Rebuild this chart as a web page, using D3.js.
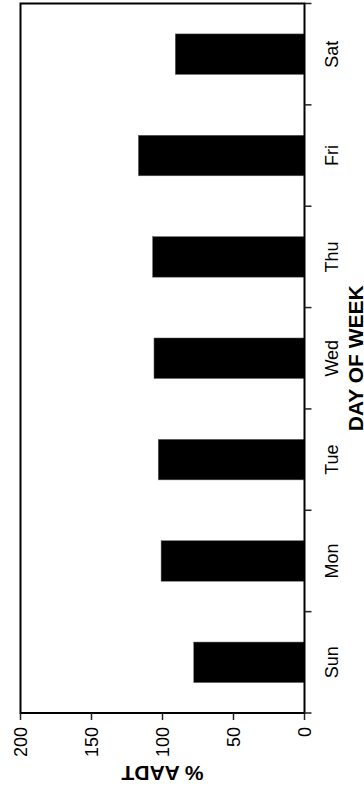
<!DOCTYPE html>
<html>
<head>
<meta charset="utf-8">
<script src="https://cdn.jsdelivr.net/npm/d3@7"></script>
<style>
  html, body { margin: 0; padding: 0; background: #fff; }
  svg { display: block; }
  text { font-family: "Liberation Sans", Arial, Helvetica, sans-serif; fill: #000; }
</style>
</head>
<body>
<svg id="chart" width="364" height="793"></svg>
<script>
const days = ["Sun", "Mon", "Tue", "Wed", "Thu", "Fri", "Sat"];
const pctAADT = [78, 101, 103, 106, 107, 117, 91];
const valueTicks = [0, 50, 100, 150, 200];
const valueTitle = "% AADT";
const categoryTitle = "DAY OF WEEK";

const svg = d3.select("#chart");

const plot = { left: 20.5, right: 304.5, top: 3.5, bottom: 713 };

// value axis: 0 at right, 200 at left (chart rotated)
const x = d3.scaleLinear().domain([0, 200]).range([plot.right, plot.left]);
// category axis: Sun at bottom, Sat at top
const y = d3.scaleBand()
  .domain(days)
  .range([plot.bottom, plot.top])
  .paddingInner(0.6)
  .paddingOuter(0.3);

const step = y.step();

// bars
svg.append("g")
  .selectAll("rect")
  .data(days.map((d, i) => ({ day: d, v: pctAADT[i] })))
  .join("rect")
  .attr("x", d => x(d.v))
  .attr("y", d => y(d.day))
  .attr("width", d => x(0) - x(d.v))
  .attr("height", y.bandwidth())
  .attr("fill", "#000")
  .attr("stroke", "#666")
  .attr("stroke-width", 0.5);

// frame
svg.append("rect")
  .attr("x", plot.left)
  .attr("y", plot.top)
  .attr("width", plot.right - plot.left)
  .attr("height", plot.bottom - plot.top)
  .attr("fill", "none")
  .attr("stroke", "#000")
  .attr("stroke-width", 2);

// value axis ticks (bottom, pointing down)
const vAxis = svg.append("g");
vAxis.selectAll("line")
  .data(valueTicks)
  .join("line")
  .attr("x1", d => x(d)).attr("x2", d => x(d))
  .attr("y1", plot.bottom).attr("y2", plot.bottom + 7)
  .attr("stroke", "#222").attr("stroke-width", 1.5);
vAxis.selectAll("text")
  .data(valueTicks)
  .join("text")
  .attr("transform", d => `translate(${x(d)},${plot.bottom + 14}) rotate(-90)`)
  .attr("text-anchor", "end")
  .attr("dy", "0.35em")
  .style("font-size", "18px")
  .text(d => d);

// category axis ticks (right side, pointing right) at band boundaries
const bounds = d3.range(days.length + 1).map(i => plot.bottom - i * step);
const cAxis = svg.append("g");
cAxis.selectAll("line")
  .data(bounds)
  .join("line")
  .attr("x1", plot.right).attr("x2", plot.right + 7)
  .attr("y1", d => d).attr("y2", d => d)
  .attr("stroke", "#222").attr("stroke-width", 1.5);
cAxis.selectAll("text")
  .data(days)
  .join("text")
  .attr("transform", d => `translate(${plot.right + 27},${y(d) + y.bandwidth() / 2}) rotate(-90)`)
  .attr("text-anchor", "middle")
  .attr("dy", "0.35em")
  .style("font-size", "18px")
  .text(d => d);

// titles
svg.append("text")
  .attr("transform", `translate(${(plot.left + plot.right) / 2},${773}) rotate(180)`)
  .attr("text-anchor", "middle")
  .attr("dy", "0.35em")
  .style("font-size", "21px")
  .style("font-weight", "bold")
  .text(valueTitle);

svg.append("text")
  .attr("transform", `translate(${356},${(plot.top + plot.bottom) / 2}) rotate(-90)`)
  .attr("text-anchor", "middle")
  .attr("dy", "0.35em")
  .style("font-size", "21px")
  .style("font-weight", "bold")
  .text(categoryTitle);
</script>
</body>
</html>
